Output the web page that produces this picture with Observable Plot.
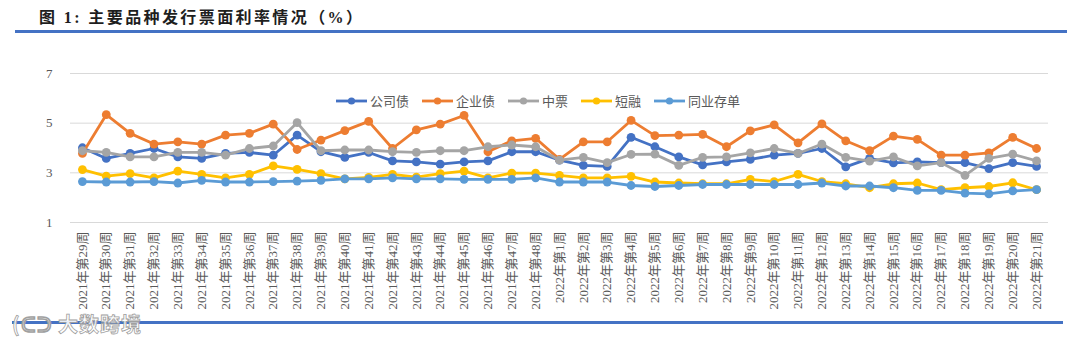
<!DOCTYPE html>
<html>
<head>
<meta charset="utf-8">
<script src="https://cdn.jsdelivr.net/npm/d3@7"></script>
<script src="https://cdn.jsdelivr.net/npm/@observablehq/plot@0.6"></script>
<style>
  html, body { margin: 0; padding: 0; background: #fff; }
  #root { position: relative; width: 1080px; height: 342px; overflow: hidden; background: #fff; }
  #chart { position: absolute; left: 0; top: 0; }
  #title { position: absolute; left: 39px; top: 4px; font-family: "Liberation Serif", "Noto Sans CJK SC", serif; font-weight: bold; font-size: 16px; letter-spacing: 2.4px; color: #1e1e1e; white-space: nowrap; }
  .rule { position: absolute; height: 3px; background: #4472C4; }
  #legend { position: absolute; left: 336px; top: 91px; display: flex; align-items: center; font-family: "Noto Sans CJK SC", sans-serif; font-size: 13px; color: #595959; white-space: nowrap; }
  #legend .item { display: flex; align-items: center; margin-right: 13px; }
  #legend svg { margin-right: 3px; }
  #wm { position: absolute; left: 12px; top: 309px; font-family: "Noto Sans CJK SC", sans-serif; font-weight: bold; font-size: 20px; color: rgba(255,255,255,0.9); -webkit-text-stroke: 0.8px #a0a0a0; white-space: nowrap; letter-spacing: 1px; }
</style>
</head>
<body>
<div id="root">
  <div id="chart"></div>
  <div id="title">图 1: 主要品种发行票面利率情况（%）</div>
  <div class="rule" style="left:15px;top:30px;width:1052px;"></div>
  <div class="rule" style="left:12px;top:321px;width:1051px;"></div>
  <div id="legend"></div>
  <div id="wm">(ᑕᑐ 大数跨境</div>
</div>
<script>
const weeks = [
  "2021年第29周","2021年第30周","2021年第31周","2021年第32周","2021年第33周","2021年第34周",
  "2021年第35周","2021年第36周","2021年第37周","2021年第38周","2021年第39周","2021年第40周",
  "2021年第41周","2021年第42周","2021年第43周","2021年第44周","2021年第45周","2021年第46周",
  "2021年第47周","2021年第48周",
  "2022年第1周","2022年第2周","2022年第3周","2022年第4周","2022年第5周","2022年第6周",
  "2022年第7周","2022年第8周","2022年第9周","2022年第10周","2022年第11周","2022年第12周",
  "2022年第13周","2022年第14周","2022年第15周","2022年第16周","2022年第17周","2022年第18周",
  "2022年第19周","2022年第20周","2022年第21周"
];

const seriesNames = ["公司债", "企业债", "中票", "短融", "同业存单"];
const seriesColors = ["#4472C4", "#ED7D31", "#A5A5A5", "#FFC000", "#5B9BD5"];

const corporateBond = [4.01,3.58,3.78,3.98,3.64,3.58,3.78,3.82,3.71,4.52,3.85,3.62,3.82,3.48,3.44,3.35,3.44,3.48,3.85,3.85,
  3.51,3.30,3.26,4.43,4.05,3.64,3.32,3.44,3.54,3.71,3.78,3.98,3.24,3.58,3.40,3.44,3.41,3.41,3.17,3.41,3.26];
const enterpriseBond = [3.78,5.34,4.59,4.16,4.25,4.16,4.52,4.59,4.96,3.94,4.32,4.70,5.07,3.98,4.73,4.96,5.31,3.85,4.29,4.39,
  3.54,4.25,4.25,5.11,4.50,4.52,4.55,4.05,4.69,4.93,4.21,4.97,4.29,3.89,4.48,4.35,3.71,3.71,3.80,4.43,3.98];
const mediumTermNote = [3.89,3.82,3.64,3.64,3.82,3.82,3.71,3.98,4.08,5.02,3.89,3.92,3.92,3.85,3.82,3.89,3.89,4.05,4.12,4.05,
  3.51,3.62,3.41,3.74,3.75,3.30,3.62,3.64,3.80,3.98,3.78,4.16,3.62,3.47,3.64,3.28,3.41,2.90,3.58,3.75,3.48];
const shortTermBill = [3.13,2.87,2.97,2.80,3.07,2.94,2.80,2.94,3.28,3.14,2.97,2.76,2.82,2.94,2.83,2.97,3.07,2.80,2.99,2.99,
  2.90,2.80,2.80,2.86,2.63,2.59,2.56,2.56,2.74,2.65,2.94,2.65,2.56,2.40,2.56,2.59,2.32,2.40,2.45,2.60,2.32];
const interbankCD = [2.65,2.63,2.63,2.65,2.59,2.70,2.63,2.63,2.65,2.67,2.70,2.76,2.76,2.80,2.76,2.76,2.74,2.74,2.74,2.80,
  2.63,2.63,2.63,2.49,2.45,2.49,2.53,2.53,2.53,2.53,2.53,2.59,2.47,2.47,2.40,2.29,2.29,2.18,2.15,2.27,2.32];

const yTicks = [1, 3, 5, 7];

const allSeries = [corporateBond, enterpriseBond, mediumTermNote, shortTermBill, interbankCD];

const seriesMarks = [];
allSeries.forEach((vals, k) => {
  const data = vals.map((v, i) => ({week: weeks[i], value: v}));
  seriesMarks.push(Plot.line(data, {x: "week", y: "value", stroke: seriesColors[k], strokeWidth: 2.8, curve: "linear"}));
  seriesMarks.push(Plot.dot(data, {x: "week", y: "value", fill: seriesColors[k], r: 4.4, stroke: "none"}));
});

const axisFont = "'Liberation Serif', 'Noto Sans CJK SC', serif";

const chart = Plot.plot({
  width: 1080,
  height: 342,
  marginTop: 73,
  marginBottom: 120,
  marginLeft: 70,
  marginRight: 32,
  style: {background: "transparent", overflow: "visible"},
  x: {type: "point", domain: weeks, padding: 0.5},
  y: {domain: [1, 7]},
  marks: [
    Plot.gridY(yTicks, {stroke: "#d9d9d9", strokeOpacity: 1, strokeWidth: 1}),
    Plot.axisY(yTicks, {tickSize: 0, tickPadding: 18, fontSize: 13, fontFamily: axisFont, color: "#595959", label: null}),
    Plot.axisX({tickSize: 0, tickRotate: -90, tickPadding: 9, fontSize: 13, fontFamily: axisFont, color: "#595959", label: null, textAnchor: "end"}),
    ...seriesMarks
  ]
});
document.getElementById("chart").appendChild(chart);

const legend = document.getElementById("legend");
seriesNames.forEach((name, k) => {
  const item = document.createElement("div");
  item.className = "item";
  item.innerHTML = `<svg width="31" height="10"><line x1="0" y1="5" x2="31" y2="5" stroke="${seriesColors[k]}" stroke-width="2.8"/><circle cx="15.5" cy="5" r="3.6" fill="${seriesColors[k]}"/></svg><span>${name}</span>`;
  legend.appendChild(item);
});
</script>
</body>
</html>
